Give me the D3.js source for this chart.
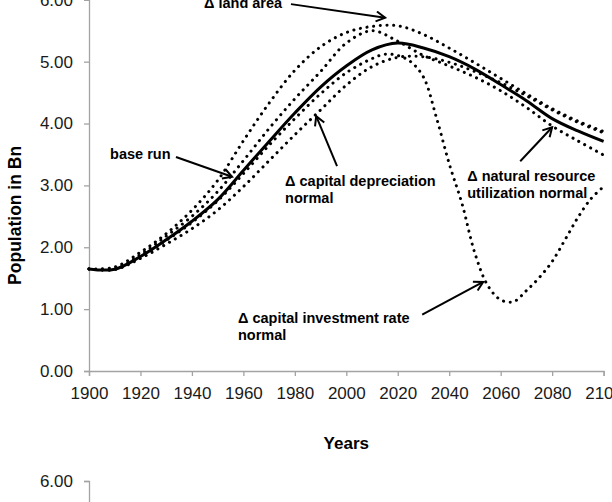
<!DOCTYPE html>
<html>
<head>
<meta charset="utf-8">
<script src="https://cdn.jsdelivr.net/npm/d3@7"></script>
<style>
  body { margin: 0; background: #fff; }
  svg { display: block; font-family: "Liberation Sans", Arial, sans-serif; }
</style>
</head>
<body>
<svg id="chart" width="612" height="502"></svg>
<script>
const years = [1900, 1910, 1920, 1930, 1940, 1950, 1960, 1970, 1980, 1990, 2000,
  2010, 2020, 2030, 2040, 2050, 2060, 2070, 2080, 2090, 2100];
const baseRun = [1.65, 1.645, 1.85, 2.12, 2.42, 2.77, 3.24, 3.71, 4.17, 4.59, 4.93,
  5.19, 5.30, 5.22, 5.08, 4.88, 4.63, 4.37, 4.08, 3.88, 3.71];
const landArea = [1.65, 1.68, 1.92, 2.22, 2.60, 3.08, 3.72, 4.33, 4.86, 5.24, 5.47,
  5.57, 5.58, 5.44, 5.22, 4.98, 4.73, 4.48, 4.24, 4.04, 3.87];
const capDepreciation = [1.65, 1.64, 1.82, 2.05, 2.30, 2.60, 2.98, 3.40, 3.82, 4.22, 4.62,
  4.92, 5.07, 5.08, 4.99, 4.84, 4.66, 4.45, 4.22, 4.02, 3.85];
const natResource = [1.65, 1.65, 1.88, 2.18, 2.50, 2.90, 3.40, 3.92, 4.40, 4.84, 5.30,
  5.50, 5.33, 5.10, 4.93, 4.75, 4.53, 4.26, 3.96, 3.72, 3.49];

const invYears = [1900, 1910, 1920, 1930, 1940, 1950, 1960, 1970, 1980, 1990, 2000,
  2010, 2015, 2020, 2025, 2030, 2035, 2040, 2045, 2050, 2055, 2060, 2065, 2070,
  2075, 2080, 2085, 2090, 2095, 2100];
const capInvestment = [1.65, 1.645, 1.85, 2.11, 2.40, 2.75, 3.19, 3.65, 4.08, 4.48, 4.82,
  5.05, 5.12, 5.10, 5.00, 4.75, 4.10, 3.35, 2.70, 1.90, 1.38, 1.15, 1.12, 1.30,
  1.51, 1.77, 2.12, 2.48, 2.78, 2.98];

const xTicks = [1900, 1920, 1940, 1960, 1980, 2000, 2020, 2040, 2060, 2080, 2100];
const yTicks = [0, 1, 2, 3, 4, 5, 6];

const series = [
  { name: "base run", years: years, values: baseRun, dotted: false },
  { name: "land area", years: years, values: landArea, dotted: true },
  { name: "capital depreciation normal", years: years, values: capDepreciation, dotted: true },
  { name: "natural resource utilization normal", years: years, values: natResource, dotted: true },
  { name: "capital investment rate normal", years: invYears, values: capInvestment, dotted: true },
];

// annotation text + arrow, all in data units
const notes = [
  { lines: ["base run"], at: [1908.2, 3.43], from: [1933.8, 3.46], to: [1955.6, 3.14] },
  { lines: ["\u0394 land area"], at: [1944.7, 5.87], from: [1978.5, 5.93], to: [2015.1, 5.71] },
  { lines: ["\u0394 capital depreciation", "normal"], at: [1976.2, 2.99], from: [1996.4, 3.31], to: [1988.3, 4.12] },
  { lines: ["\u0394 natural resource", "utilization normal"], at: [2047, 3.07], from: [2067.6, 3.39], to: [2080, 3.94] },
  { lines: ["\u0394 capital investment rate", "normal"], at: [1957.9, 0.78], from: [2029.5, 0.91], to: [2053.2, 1.44] },
];

const svg = d3.select("#chart");
const axisColor = "#a3a3a3";

const x = d3.scaleLinear().domain([1900, 2100]).range([89, 603.6]);
const y = d3.scaleLinear().domain([0, 6]).range([371, -0.2]);

function styleAxis(g) {
  g.selectAll(".domain").attr("stroke", axisColor).attr("stroke-width", 1.3);
  g.selectAll(".tick line").attr("stroke", axisColor).attr("stroke-width", 1.3);
  g.selectAll(".tick text")
    .attr("fill", "#1a1a1a")
    .style("font-size", "17px")
    .style("font-family", "'Liberation Sans', Arial, sans-serif");
}

svg.append("g")
  .attr("transform", `translate(0,${y(0)})`)
  .call(d3.axisBottom(x).tickValues(xTicks).tickFormat(d3.format("d")).tickSize(5).tickPadding(11))
  .call(styleAxis);

svg.append("g")
  .attr("transform", `translate(${x(1900)},0)`)
  .call(d3.axisLeft(y).tickValues(yTicks).tickFormat(d3.format(".2f")).tickSize(5).tickPadding(11))
  .call(styleAxis);

// top of the next chart peeking in at the bottom
const y2 = d3.scaleLinear().domain([0, 6]).range([481 + 371.2, 481]);
svg.append("g")
  .attr("transform", `translate(${x(1900)},0)`)
  .call(d3.axisLeft(y2).tickValues([6]).tickFormat(d3.format(".2f")).tickSize(5).tickPadding(11))
  .call(styleAxis);

svg.append("text")
  .attr("transform", `translate(21,${(y(0) + y(6)) / 2 + 30}) rotate(-90)`)
  .attr("text-anchor", "middle")
  .style("font-size", "17.5px")
  .style("font-weight", "bold")
  .text("Population in Bn");

svg.append("text")
  .attr("x", (x(1900) + x(2100)) / 2)
  .attr("y", 449)
  .attr("text-anchor", "middle")
  .style("font-size", "17px")
  .style("font-weight", "bold")
  .text("Years");

const line = d3.line()
  .x(d => x(d[0]))
  .y(d => y(d[1]))
  .curve(d3.curveCatmullRom.alpha(0.5));

svg.append("g")
  .selectAll("path")
  .data(series)
  .join("path")
  .attr("d", s => line(d3.zip(s.years, s.values)))
  .attr("fill", "none")
  .attr("stroke", "#000")
  .attr("stroke-width", 3)
  .attr("stroke-linecap", s => s.dotted ? "round" : "butt")
  .attr("stroke-dasharray", s => s.dotted ? "0.1 6.6" : null);

svg.append("defs")
  .append("marker")
  .attr("id", "arrow")
  .attr("viewBox", "0 0 12 12")
  .attr("refX", 10)
  .attr("refY", 6)
  .attr("markerWidth", 12)
  .attr("markerHeight", 12)
  .attr("markerUnits", "userSpaceOnUse")
  .attr("orient", "auto")
  .append("path")
  .attr("d", "M1,1 L10,6 L1,11")
  .attr("fill", "none")
  .attr("stroke", "#000")
  .attr("stroke-width", 2);

const note = svg.append("g")
  .selectAll("g")
  .data(notes)
  .join("g");

note.append("line")
  .attr("x1", d => x(d.from[0]))
  .attr("y1", d => y(d.from[1]))
  .attr("x2", d => x(d.to[0]))
  .attr("y2", d => y(d.to[1]))
  .attr("stroke", "#000")
  .attr("stroke-width", 2)
  .attr("marker-end", "url(#arrow)");

note.append("text")
  .attr("x", d => x(d.at[0]))
  .attr("y", d => y(d.at[1]))
  .style("font-size", "14.5px")
  .style("font-weight", "bold")
  .selectAll("tspan")
  .data(d => d.lines.map((t, i) => ({ t: t, i: i, x: x(d.at[0]) })))
  .join("tspan")
  .attr("x", d => d.x)
  .attr("dy", d => d.i ? 17 : 0)
  .text(d => d.t);
</script>
</body>
</html>
